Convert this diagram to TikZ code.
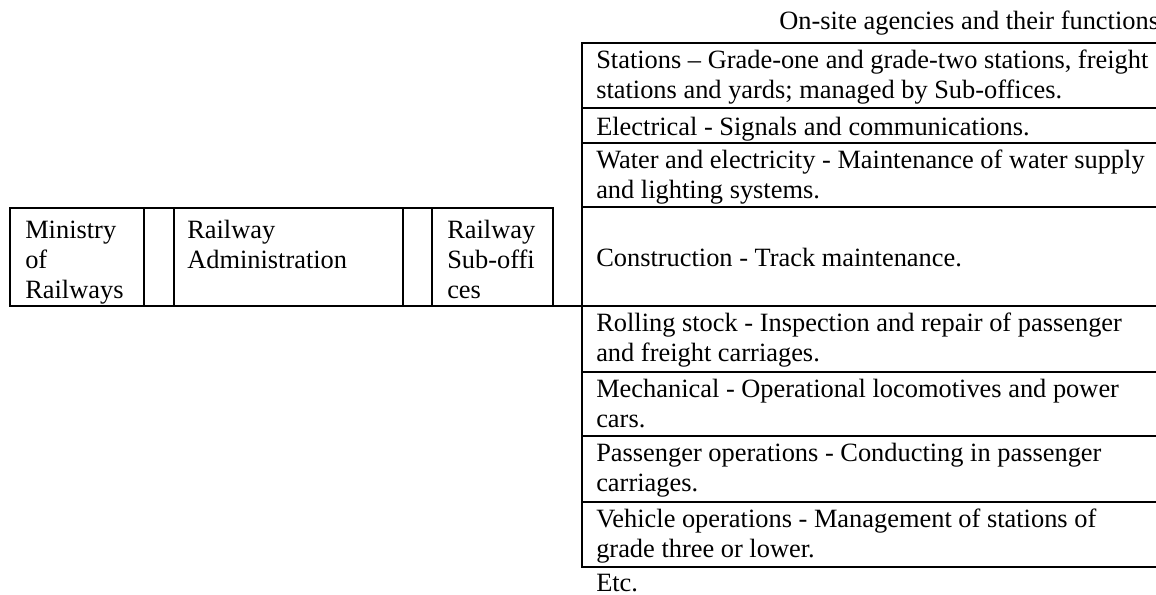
\documentclass[tikz,border=0pt]{standalone}
\usepackage{fontspec}
\setmainfont{Liberation Serif}
\newcommand{\cellpair}[2]{\begin{tabular}[t]{@{}l@{}}#1\\#2\end{tabular}}
\newcommand{\celltriple}[3]{\begin{tabular}[t]{@{}l@{}}#1\\#2\\#3\end{tabular}}
\tikzset{
  txt/.style={anchor=base west, inner sep=0pt, font=\fontsize{19.8}{22.5}\selectfont},
  rule/.style={line width=2pt, line cap=butt},
}
\begin{document}
\begin{tikzpicture}[x=0.75pt,y=-0.75pt]
\useasboundingbox (0,0) rectangle (1156,594);
\clip (0,0) rectangle (1156,594);
\fill[white] (0,0) rectangle (1156,594);

% left chain of boxes
\draw[rule] (10,208) -- (553,208);
\draw[rule] (10,306) -- (1170,306);
\draw[rule] (10,207) -- (10,307);
\draw[rule] (144,207) -- (144,307);
\draw[rule] (174,207) -- (174,307);
\draw[rule] (403,207) -- (403,307);
\draw[rule] (432,207) -- (432,307);
\draw[rule] (553,207) -- (553,307);

\node[txt] (min) at (25,238) {\celltriple{Ministry}{of}{Railways}};
\node[txt] (adm) at (187,238) {\cellpair{Railway}{Administration}};
\node[txt] (sub) at (447,238) {\celltriple{Railway}{Sub-offi}{ces}};

% right table
\node[txt] (title) at (779,29) {On-site agencies and their functions};
\draw[rule] (582,42) -- (582,568);
\foreach \yy in {43,108,143,207,372,436,502,567}
  \draw[rule] (581,\yy) -- (1170,\yy);

\node[txt] (r1) at (596,68) {\cellpair{Stations – Grade-one and grade-two stations, freight}{stations and yards; managed by Sub-offices.}};
\node[txt] (r2) at (596,135) {Electrical - Signals and communications.};
\node[txt] (r3) at (596,168) {\cellpair{Water and electricity - Maintenance of water supply}{and lighting systems.}};
\node[txt] (r4) at (596,266) {Construction - Track maintenance.};
\node[txt] (r5) at (596,331) {\cellpair{Rolling stock - Inspection and repair of passenger}{and freight carriages.}};
\node[txt] (r6) at (596,397) {\cellpair{Mechanical - Operational locomotives and power}{cars.}};
\node[txt] (r7) at (596,461) {\cellpair{Passenger operations - Conducting in passenger}{carriages.}};
\node[txt] (r8) at (596,527) {\cellpair{Vehicle operations - Management of stations of}{grade three or lower.}};
\node[txt] (etc) at (596,591) {Etc.};
\end{tikzpicture}
\end{document}
